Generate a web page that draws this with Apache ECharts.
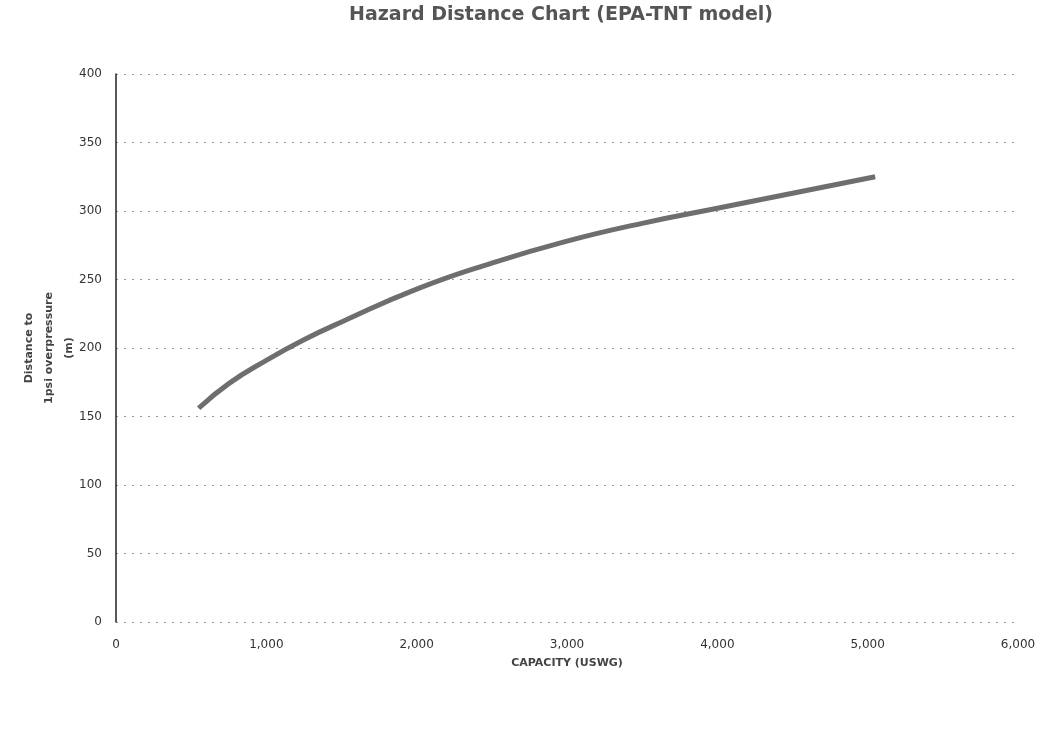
<!DOCTYPE html>
<html>
<head>
<meta charset="utf-8">
<script src="https://cdn.jsdelivr.net/npm/echarts@6/dist/echarts.min.js"></script>
<style>
html,body{margin:0;padding:0;background:#fff;}
#c{width:1060px;height:730px;}
</style>
</head>
<body>
<div id="c"></div>
<script>
const chartTitle = 'Hazard Distance Chart (EPA-TNT model)';
const xAxisTitle = 'CAPACITY (USWG)';
const yAxisTitle = 'Distance to\n1psi overpressure\n(m)';
const capacity = [550, 750, 1000, 1250, 1500, 2000, 2500, 3000, 3500, 4000, 4500, 5050];
const distance = [156, 174, 191, 206, 219, 243, 262, 278, 291, 302, 313, 325];

const chart = echarts.init(document.getElementById('c'));
chart.setOption({
  backgroundColor: '#fff',
  animation: false,
  title: {
    text: chartTitle,
    left: 556, top: 1, textAlign: 'center',
    textStyle: {fontFamily: 'DejaVu Sans', fontSize: 19, fontWeight: 'bold', color: '#555'}
  },
  grid: {left: 116, right: 42, top: 74, bottom: 108, containLabel: false},
  xAxis: {
    type: 'value', min: 0, max: 6000, interval: 1000,
    name: xAxisTitle, nameLocation: 'middle', nameGap: 36, nameMoveOverlap: false,
    nameTextStyle: {fontFamily: 'DejaVu Sans', fontSize: 11, fontWeight: 'bold', color: '#444'},
    axisLine: {show: false}, axisTick: {show: false},
    splitLine: {show: false},
    axisLabel: {margin: 17, fontFamily: 'DejaVu Sans', fontSize: 12, color: '#333',
      formatter: v => v.toLocaleString('en-US')}
  },
  yAxis: {
    type: 'value', min: 0, max: 400, interval: 50,
    name: yAxisTitle, nameLocation: 'middle', nameGap: 37, nameRotate: 90, nameMoveOverlap: false,
    nameTextStyle: {fontFamily: 'DejaVu Sans', fontSize: 11, fontWeight: 'bold', color: '#444', lineHeight: 20},
    axisLine: {show: true, onZero: false, lineStyle: {color: '#222', width: 1.5}},
    axisTick: {show: false},
    axisLabel: {margin: 14, fontFamily: 'DejaVu Sans', fontSize: 12, color: '#333'},
    splitLine: {show: true, lineStyle: {color: '#999', width: 1, type: [2, 6]}}
  },
  series: [{
    type: 'line',
    data: capacity.map((c, i) => [c, distance[i]]),
    smooth: true, showSymbol: false,
    lineStyle: {color: '#6e6e6e', width: 5},
    z: 5
  }]
});
</script>
</body>
</html>
